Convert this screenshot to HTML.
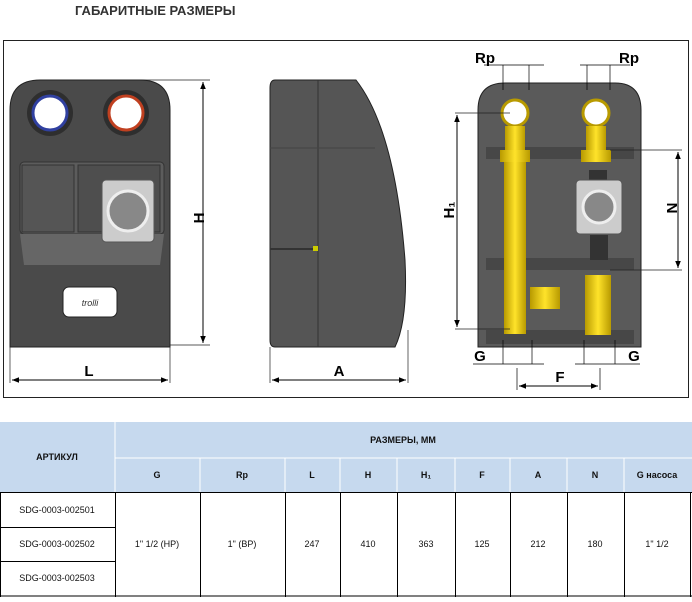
<!DOCTYPE html>
<html><head><meta charset="utf-8"><style>
body{margin:0;background:#fff;width:692px;height:597px;overflow:hidden;font-family:"Liberation Sans",sans-serif}
</style></head><body>
<svg width="692" height="597" xmlns="http://www.w3.org/2000/svg" font-family="Liberation Sans, sans-serif">
<defs>
<linearGradient id="g1" x1="0" x2="1"><stop offset="0" stop-color="#3a3a3a"/><stop offset=".5" stop-color="#5a5a5a"/><stop offset="1" stop-color="#3a3a3a"/></linearGradient>
<linearGradient id="br" x1="0" x2="1"><stop offset="0" stop-color="#b89a00"/><stop offset=".5" stop-color="#ffe32a"/><stop offset="1" stop-color="#b89a00"/></linearGradient>
<marker id="a" viewBox="0 0 10 10" refX="10" refY="5" markerWidth="7" markerHeight="7" orient="auto-start-reverse"><path d="M0,1 L10,5 L0,9z" fill="#000"/></marker>
</defs>
<text x="75" y="15" font-size="13" font-weight="bold" fill="#333">ГАБАРИТНЫЕ РАЗМЕРЫ</text>
<rect x="3.5" y="40.5" width="685" height="357" fill="#fff" stroke="#222"/>
<!-- front view -->
<path d="M10,347 V110 Q10,80 40,80 H140 Q170,80 170,110 V347 Z" fill="#4a4a4a" stroke="#222"/>
<circle cx="50" cy="113" r="23" fill="#2e2e2e"/><circle cx="50" cy="113" r="17" fill="#fff" stroke="#3040a0" stroke-width="3"/>
<circle cx="126" cy="113" r="23" fill="#2e2e2e"/><circle cx="126" cy="113" r="17" fill="#fff" stroke="#c04020" stroke-width="3"/>
<rect x="20" y="162" width="144" height="72" rx="4" fill="#5c5c5c" stroke="#333"/>
<rect x="22" y="165" width="52" height="67" fill="#555" stroke="#333"/>
<rect x="78" y="165" width="82" height="67" fill="#4e4e4e" stroke="#333"/>
<path d="M20,234 H164 L160,265 H24Z" fill="#666"/>
<rect x="102" y="180" width="52" height="62" rx="4" fill="#ccc" stroke="#555"/>
<circle cx="128" cy="211" r="20" fill="#888" stroke="#eee" stroke-width="3"/>
<rect x="63" y="287" width="54" height="30" rx="6" fill="#fff" stroke="#222"/>
<text x="90" y="306" font-size="9" font-style="italic" text-anchor="middle" fill="#333">trolli</text>
<line x1="140" y1="80" x2="210" y2="80" stroke="#222" stroke-width=".7"/>
<line x1="170" y1="345" x2="210" y2="345" stroke="#222" stroke-width=".7"/>
<line x1="203" y1="82" x2="203" y2="343" stroke="#000" marker-start="url(#a)" marker-end="url(#a)"/>
<text x="200" y="218" font-size="15" font-weight="bold" transform="rotate(-90 200 218)" text-anchor="middle" dominant-baseline="middle">H</text>
<line x1="10" y1="347" x2="10" y2="383" stroke="#222" stroke-width=".7"/><line x1="170" y1="347" x2="170" y2="383" stroke="#222" stroke-width=".7"/>
<line x1="12" y1="380" x2="168" y2="380" stroke="#000" marker-start="url(#a)" marker-end="url(#a)"/>
<text x="89" y="376" font-size="15" font-weight="bold" text-anchor="middle">L</text>
<!-- side view -->
<path d="M275,80 H356 Q395,130 405,260 Q408,320 395,347 H275 Q270,347 270,340 V88 Q270,80 275,80Z" fill="#555" stroke="#222"/>
<line x1="318" y1="80" x2="318" y2="347" stroke="#333"/>
<line x1="270" y1="148" x2="375" y2="148" stroke="#444"/>
<line x1="270" y1="249" x2="314" y2="249" stroke="#333" stroke-width="2"/>
<rect x="313" y="246" width="5" height="5" fill="#cc0"/>
<line x1="270" y1="347" x2="270" y2="383" stroke="#222" stroke-width=".7"/><line x1="408" y1="330" x2="408" y2="383" stroke="#222" stroke-width=".7"/>
<line x1="272" y1="380" x2="406" y2="380" stroke="#000" marker-start="url(#a)" marker-end="url(#a)"/>
<text x="339" y="376" font-size="15" font-weight="bold" text-anchor="middle">A</text>
<!-- right view -->
<path d="M478,347 V110 Q478,83 505,83 H615 Q641,83 641,110 V347Z" fill="#5a5a5a" stroke="#222"/>
<rect x="486" y="147" width="148" height="12" fill="#474747"/>
<rect x="486" y="258" width="148" height="12" fill="#474747"/>
<rect x="486" y="330" width="148" height="14" fill="#474747"/>
<circle cx="515" cy="113" r="13" fill="#fff" stroke="#b89a00" stroke-width="3"/>
<circle cx="596" cy="113" r="13" fill="#fff" stroke="#b89a00" stroke-width="3"/>
<rect x="505" y="126" width="20" height="30" fill="url(#br)"/>
<rect x="586" y="126" width="20" height="30" fill="url(#br)"/>
<rect x="500" y="150" width="30" height="12" fill="url(#br)"/>
<rect x="581" y="150" width="30" height="12" fill="url(#br)"/>
<rect x="504" y="162" width="22" height="172" fill="url(#br)"/>
<rect x="530" y="287" width="30" height="22" fill="url(#br)"/>
<rect x="585" y="275" width="26" height="60" fill="url(#br)"/>
<rect x="589" y="170" width="18" height="12" fill="#333"/>
<rect x="576" y="180" width="46" height="54" rx="4" fill="#ccc" stroke="#555"/>
<circle cx="599" cy="207" r="16" fill="#888" stroke="#eee" stroke-width="3"/>
<rect x="590" y="235" width="18" height="25" fill="#333"/>
<line x1="484" y1="65" x2="544" y2="65" stroke="#000" stroke-width=".8"/><line x1="503" y1="65" x2="503" y2="90" stroke="#000" stroke-width=".7"/><line x1="529" y1="65" x2="529" y2="90" stroke="#000" stroke-width=".7"/>
<line x1="580" y1="65" x2="630" y2="65" stroke="#000" stroke-width=".8"/><line x1="587" y1="65" x2="587" y2="90" stroke="#000" stroke-width=".7"/><line x1="610" y1="65" x2="610" y2="90" stroke="#000" stroke-width=".7"/>
<text x="485" y="63" font-size="15" font-weight="bold" text-anchor="middle">Rp</text>
<text x="629" y="63" font-size="15" font-weight="bold" text-anchor="middle">Rp</text>
<line x1="455" y1="113" x2="510" y2="113" stroke="#222" stroke-width=".7"/><line x1="455" y1="329" x2="510" y2="329" stroke="#222" stroke-width=".7"/>
<line x1="457" y1="115" x2="457" y2="327" stroke="#000" marker-start="url(#a)" marker-end="url(#a)"/>
<text x="450" y="210" font-size="15" font-weight="bold" transform="rotate(-90 450 210)" text-anchor="middle" dominant-baseline="middle">H₁</text>
<line x1="610" y1="150" x2="682" y2="150" stroke="#222" stroke-width=".7"/><line x1="610" y1="270" x2="682" y2="270" stroke="#222" stroke-width=".7"/>
<line x1="678" y1="152" x2="678" y2="268" stroke="#000" marker-start="url(#a)" marker-end="url(#a)"/>
<text x="671" y="208" font-size="15" font-weight="bold" transform="rotate(90 671 208)" text-anchor="middle" dominant-baseline="middle">N</text>
<line x1="473" y1="364" x2="544" y2="364" stroke="#000" stroke-width=".8"/><line x1="503" y1="340" x2="503" y2="364" stroke="#000" stroke-width=".7"/><line x1="532" y1="340" x2="532" y2="364" stroke="#000" stroke-width=".7"/>
<line x1="575" y1="364" x2="640" y2="364" stroke="#000" stroke-width=".8"/><line x1="584" y1="340" x2="584" y2="364" stroke="#000" stroke-width=".7"/><line x1="615" y1="340" x2="615" y2="364" stroke="#000" stroke-width=".7"/>
<text x="480" y="361" font-size="15" font-weight="bold" text-anchor="middle">G</text>
<text x="634" y="361" font-size="15" font-weight="bold" text-anchor="middle">G</text>
<line x1="517" y1="368" x2="517" y2="390" stroke="#000" stroke-width=".7"/><line x1="600" y1="368" x2="600" y2="390" stroke="#000" stroke-width=".7"/>
<line x1="519" y1="386" x2="598" y2="386" stroke="#000" marker-start="url(#a)" marker-end="url(#a)"/>
<text x="560" y="382" font-size="15" font-weight="bold" text-anchor="middle">F</text>
<!-- table -->
<rect x="0" y="422" width="692" height="70" fill="#c6d9ee"/>
<g stroke="#fff" stroke-width="1"><line x1="115" y1="422" x2="115" y2="492"/><line x1="115" y1="458" x2="692" y2="458"/>
<line x1="200" y1="458" x2="200" y2="492"/><line x1="285" y1="458" x2="285" y2="492"/><line x1="340" y1="458" x2="340" y2="492"/><line x1="397" y1="458" x2="397" y2="492"/><line x1="455" y1="458" x2="455" y2="492"/><line x1="510" y1="458" x2="510" y2="492"/><line x1="567" y1="458" x2="567" y2="492"/><line x1="624" y1="458" x2="624" y2="492"/></g>
<g stroke="#000" stroke-width="1" fill="none"><line x1="0" y1="492.5" x2="692" y2="492.5"/><line x1="0" y1="596" x2="692" y2="596"/>
<line x1="0.5" y1="492" x2="0.5" y2="597"/><line x1="115.5" y1="492" x2="115.5" y2="597"/><line x1="200.5" y1="492" x2="200.5" y2="597"/><line x1="285.5" y1="492" x2="285.5" y2="597"/><line x1="340.5" y1="492" x2="340.5" y2="597"/><line x1="397.5" y1="492" x2="397.5" y2="597"/><line x1="455.5" y1="492" x2="455.5" y2="597"/><line x1="510.5" y1="492" x2="510.5" y2="597"/><line x1="567.5" y1="492" x2="567.5" y2="597"/><line x1="624.5" y1="492" x2="624.5" y2="597"/><line x1="690.5" y1="492" x2="690.5" y2="597"/>
<line x1="0" y1="527.5" x2="115" y2="527.5"/><line x1="0" y1="561.5" x2="115" y2="561.5"/></g>
<g font-size="9" text-anchor="middle" fill="#111">
<text x="57" y="460" font-weight="bold">АРТИКУЛ</text>
<text x="403" y="443" font-weight="bold">РАЗМЕРЫ, ММ</text>
<g font-weight="bold"><text x="157" y="478">G</text><text x="242" y="478">Rp</text><text x="312" y="478">L</text><text x="368" y="478">H</text><text x="426" y="478">H₁</text><text x="482" y="478">F</text><text x="538" y="478">A</text><text x="595" y="478">N</text><text x="657" y="478">G насоса</text></g>
<text x="57" y="513">SDG-0003-002501</text><text x="57" y="547">SDG-0003-002502</text><text x="57" y="581">SDG-0003-002503</text>
<text x="157" y="547">1" 1/2 (НР)</text><text x="242" y="547">1" (ВР)</text><text x="312" y="547">247</text><text x="368" y="547">410</text><text x="426" y="547">363</text><text x="482" y="547">125</text><text x="538" y="547">212</text><text x="595" y="547">180</text><text x="657" y="547">1" 1/2</text>
</g>
</svg>
</body></html>
